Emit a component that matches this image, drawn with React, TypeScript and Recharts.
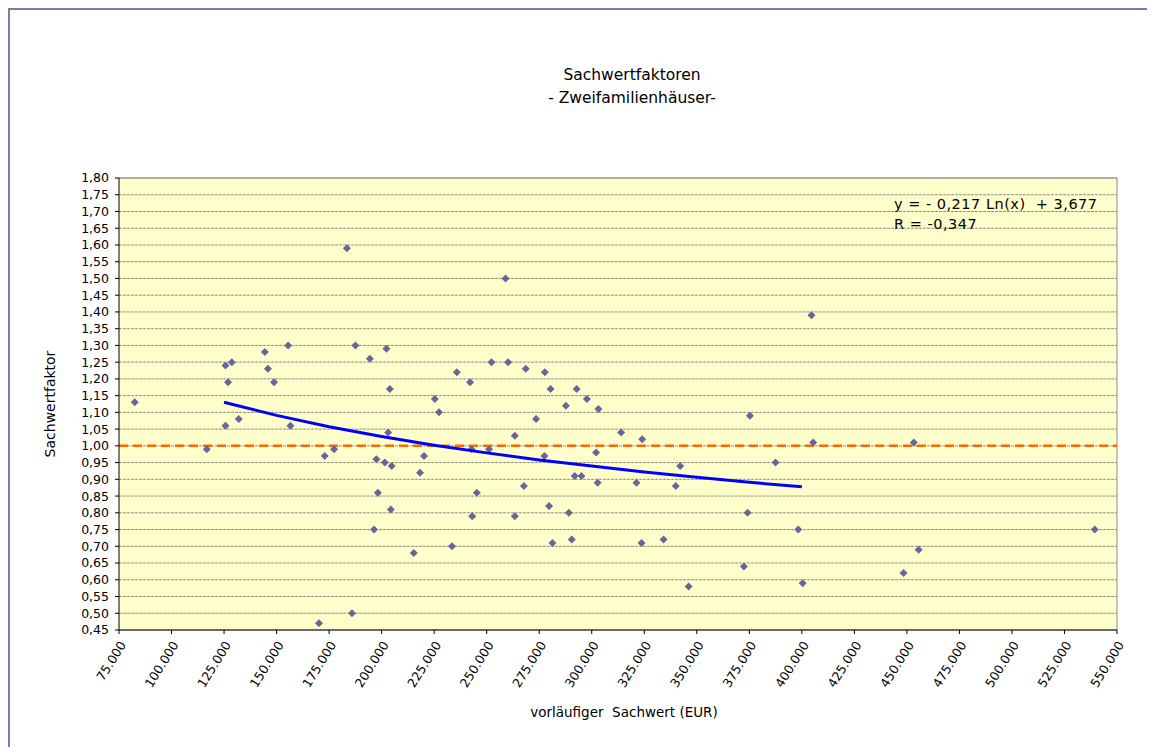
import React from "react";
import { CartesianGrid, ReferenceLine, Scatter, ScatterChart, XAxis, YAxis } from "recharts";

// vorläufiger Sachwert (EUR) je Kauffall
const sachwert = [
  82500, 116800, 125700, 125700, 126900, 128700, 132000, 144400, 145900, 148800,
  155500, 156600, 170200, 172900, 177400, 183500, 185900, 187500, 194400, 196400,
  197500, 198200, 201500, 202300, 203100, 203900, 204400, 204800, 215300, 218300,
  220200, 225300, 227300, 233500, 235800, 242100, 242800, 243100, 245300, 251100,
  252300, 259000, 260200, 263400, 263400, 267700, 268600, 273500, 277500, 277700,
  279700, 280400, 281300, 287700, 289100, 290500, 291900, 292800, 295100, 297700,
  302100, 302800, 303200, 314000, 321300, 323700, 324000, 334200, 340000, 342100,
  346100, 372400, 374200, 375300, 387500, 398300, 400400, 404600, 405400, 448400,
  453300, 455600, 539400
];

// Sachwertfaktor je Kauffall
const faktor = [
  1.13, 0.99, 1.24, 1.06, 1.19, 1.25, 1.08, 1.28, 1.23, 1.19,
  1.3, 1.06, 0.47, 0.97, 0.99, 1.59, 0.5, 1.3, 1.26, 0.75,
  0.96, 0.86, 0.95, 1.29, 1.04, 1.17, 0.81, 0.94, 0.68, 0.92,
  0.97, 1.14, 1.1, 0.7, 1.22, 1.19, 0.99, 0.79, 0.86, 0.99,
  1.25, 1.5, 1.25, 1.03, 0.79, 0.88, 1.23, 1.08, 0.97, 1.22,
  0.82, 1.17, 0.71, 1.12, 0.8, 0.72, 0.91, 1.17, 0.91, 1.14,
  0.98, 0.89, 1.11, 1.04, 0.89, 0.71, 1.02, 0.72, 0.88, 0.94,
  0.58, 0.64, 0.8, 1.09, 0.95, 0.75, 0.59, 1.39, 1.01, 0.62,
  1.01, 0.69, 0.75
];

// logarithmische Trendlinie
const trendX = [125000, 150000, 175000, 200000, 225000, 250000, 275000, 300000, 325000, 350000, 375000, 400000];
const trendY = [1.13, 1.091, 1.057, 1.028, 1.002, 0.979, 0.958, 0.94, 0.922, 0.906, 0.891, 0.878];

const xTicks = [
  75000, 100000, 125000, 150000, 175000, 200000, 225000, 250000, 275000, 300000,
  325000, 350000, 375000, 400000, 425000, 450000, 475000, 500000, 525000, 550000
];
const yTicks = [
  0.45, 0.5, 0.55, 0.6, 0.65, 0.7, 0.75, 0.8, 0.85, 0.9, 0.95, 1.0, 1.05, 1.1,
  1.15, 1.2, 1.25, 1.3, 1.35, 1.4, 1.45, 1.5, 1.55, 1.6, 1.65, 1.7, 1.75, 1.8
];

const punkte = sachwert.map((x, i) => ({ x, y: faktor[i] }));
const trend = trendX.map((x, i) => ({ x, y: trendY[i] }));

const FONT = "'DejaVu Sans', sans-serif";

const fmtX = (v: number) => String(v).replace(/\B(?=(\d{3})+(?!\d))/g, ".");
const fmtY = (v: number) => v.toFixed(2).replace(".", ",");

function Raute(props: any) {
  const { cx, cy } = props;
  const r = 4;
  return (
    <polygon
      points={`${cx},${cy - r} ${cx + r},${cy} ${cx},${cy + r} ${cx - r},${cy}`}
      fill="#666699"
    />
  );
}

function YTitel({ viewBox }: any) {
  const x = viewBox.x + 45;
  const y = viewBox.y + viewBox.height / 2;
  return (
    <text x={x} y={y} transform={`rotate(-90 ${x} ${y})`} textAnchor="middle" fontFamily={FONT} fontSize={14} fill="#000">
      Sachwertfaktor
    </text>
  );
}

function XTitel({ viewBox }: any) {
  const x = viewBox.x + viewBox.width / 2 + 6;
  const y = viewBox.y + 87;
  return (
    <text x={x} y={y} textAnchor="middle" fontFamily={FONT} fontSize={13.5} fill="#000" style={{ whiteSpace: "pre" }}>
      {"vorläufiger  Sachwert (EUR)"}
    </text>
  );
}

const tickStyle = { fontFamily: FONT, fontSize: 12.5, fill: "#000" };

export default function App() {
  return (
    <div
      style={{
        position: "relative",
        width: 1141,
        height: 739,
        boxSizing: "border-box",
        border: "2px solid #7B7BB3",
        borderBottom: "none",
        background: "#fff"
      }}
    >
      <ScatterChart width={1137} height={737} margin={{ top: 168, right: 30, bottom: 37, left: 0 }}>
        <CartesianGrid horizontal vertical={false} stroke="#8C8C8C" strokeDasharray="3 1" fill="#FFFFCC" />
        <XAxis
          type="number"
          dataKey="x"
          domain={[75000, 550000]}
          ticks={xTicks}
          interval={0}
          tickFormatter={fmtX}
          angle={-58}
          textAnchor="end"
          tickSize={4}
          tickMargin={6}
          height={80}
          stroke="#000"
          tick={tickStyle}
          allowDataOverflow
          label={<XTitel />}
        />
        <YAxis
          type="number"
          dataKey="y"
          domain={[0.45, 1.8]}
          ticks={yTicks}
          interval={0}
          tickFormatter={fmtY}
          tickSize={4}
          tickMargin={6}
          width={109}
          stroke="#000"
          tick={tickStyle}
          allowDataOverflow
          label={<YTitel />}
        />
        <ReferenceLine y={1.8} stroke="#8C8C8C" />
        <ReferenceLine x={550000} stroke="#8C8C8C" />
        <Scatter data={punkte} shape={Raute} isAnimationActive={false} />
        <Scatter
          data={trend}
          line={{ stroke: "#0000FF", strokeWidth: 3 }}
          lineType="joint"
          shape={() => <g />}
          isAnimationActive={false}
        />
        <ReferenceLine y={1} stroke="#FF6600" strokeWidth={2.5} strokeDasharray="9 5" />
        <text x={622} y={70} textAnchor="middle" fontFamily={FONT} fontSize={15.5} fill="#000">
          Sachwertfaktoren
        </text>
        <text x={622} y={93} textAnchor="middle" fontFamily={FONT} fontSize={15.5} fill="#000">
          - Zweifamilienhäuser-
        </text>
        <text x={884} y={199} fontFamily={FONT} fontSize={14.5} letterSpacing={0.5} fill="#000" style={{ whiteSpace: "pre" }}>
          {"y = - 0,217 Ln(x)  + 3,677"}
        </text>
        <text x={884} y={219} fontFamily={FONT} fontSize={14.5} letterSpacing={0.5} fill="#000">
          R = -0,347
        </text>
      </ScatterChart>
    </div>
  );
}
